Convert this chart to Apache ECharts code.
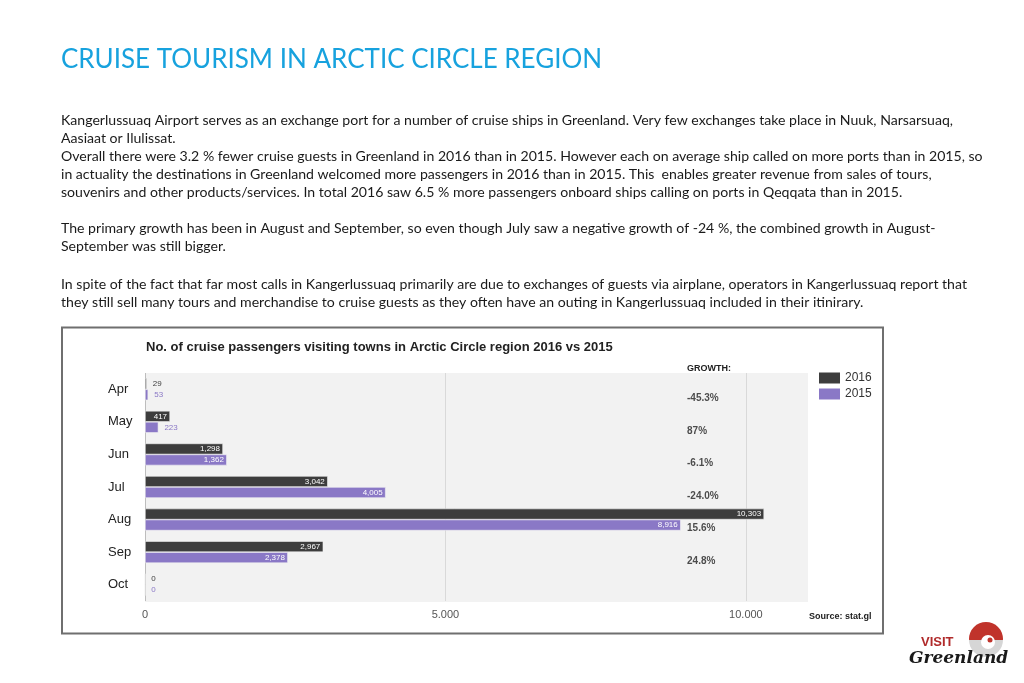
<!DOCTYPE html>
<html>
<head>
<meta charset="utf-8">
<script src="https://cdn.jsdelivr.net/npm/echarts@6/dist/echarts.min.js"></script>
<style>
  html, body { margin: 0; padding: 0; background: #ffffff; }
  #chart { width: 1024px; height: 683px; }
</style>
</head>
<body>
<div id="chart"></div>
<script>
// ---- data ----
const months = ['Apr', 'May', 'Jun', 'Jul', 'Aug', 'Sep', 'Oct'];
const pax2016 = [29, 417, 1298, 3042, 10303, 2967, 0];
const pax2015 = [53, 223, 1362, 4005, 8916, 2378, 0];
const growth = ['-45.3%', '87%', '-6.1%', '-24.0%', '15.6%', '24.8%'];
const seriesNames = ['2016', '2015'];
const pageTitle = 'CRUISE TOURISM IN ARCTIC CIRCLE REGION';
const chartTitle = 'No. of cruise passengers visiting towns in Arctic Circle region 2016 vs 2015';
const para1 = [
  'Kangerlussuaq Airport serves as an exchange port for a number of cruise ships in Greenland. Very few exchanges take place in Nuuk, Narsarsuaq,',
  'Aasiaat or Ilulissat.',
  'Overall there were 3.2 % fewer cruise guests in Greenland in 2016 than in 2015. However each on average ship called on more ports than in 2015, so',
  'in actuality the destinations in Greenland welcomed more passengers in 2016 than in 2015. This  enables greater revenue from sales of tours,',
  'souvenirs and other products/services. In total 2016 saw 6.5 % more passengers onboard ships calling on ports in Qeqqata than in 2015.'
];
const para2 = [
  'The primary growth has been in August and September, so even though July saw a negative growth of -24 %, the combined growth in August-',
  'September was still bigger.'
];
const para3 = [
  'In spite of the fact that far most calls in Kangerlussuaq primarily are due to exchanges of guests via airplane, operators in Kangerlussuaq report that',
  'they still sell many tours and merchandise to cruise guests as they often have an outing in Kangerlussuaq included in their itinirary.'
];

// ---- styles ----
const C2016 = '#3d3d3d';
const C2015 = '#8a78c6';
const BODY_FONT = 'Lato';
const CHART_FONT = '"Liberation Sans", Arial, sans-serif';
const fmtComma = v => String(v).replace(/\B(?=(\d{3})+(?!\d))/g, ',');
const fmtDot = v => String(v).replace(/\B(?=(\d{3})+(?!\d))/g, '.');

function barData(values, color) {
  return values.map(v => {
    const inside = v > 300;
    return {
      value: v,
      label: {
        show: true,
        position: inside ? 'insideRight' : 'right',
        distance: inside ? 3 : 6,
        color: inside ? '#ffffff' : color,
        fontSize: 8,
        fontFamily: CHART_FONT,
        formatter: p => fmtComma(p.value)
      }
    };
  });
}

const GROWTH_X = 9020;

const chart = echarts.init(document.getElementById('chart'), null, { renderer: 'canvas' });
const option = {
  backgroundColor: '#ffffff',
  animation: false,
  title: {
    text: pageTitle,
    left: 56,
    top: 42,
    textStyle: { fontFamily: BODY_FONT, fontWeight: 'normal', fontSize: 26, color: '#17a2de' }
  },
  legend: {
    orient: 'vertical',
    left: 819,
    top: 372,
    padding: 0,
    itemWidth: 21,
    itemHeight: 11,
    itemGap: 4,
    icon: 'rect',
    itemStyle: { borderWidth: 0 },
    data: seriesNames,
    textStyle: { fontFamily: CHART_FONT, fontSize: 12, color: '#333' }
  },
  grid: { left: 145, top: 373, width: 661, height: 228, containLabel: false },
  xAxis: {
    type: 'value',
    min: 0,
    max: 11000,
    interval: 5000,
    axisLine: { show: false },
    axisTick: { show: false },
    splitLine: { show: true, showMaxLine: false, lineStyle: { color: ['#bdbdbd', '#d9d9d9', '#d9d9d9'], width: 1 } },
    axisLabel: {
      margin: 8,
      showMaxLabel: false,
      color: '#555',
      fontSize: 11,
      fontFamily: CHART_FONT,
      formatter: v => fmtDot(v)
    }
  },
  yAxis: {
    type: 'category',
    data: months,
    inverse: true,
    axisLine: { show: false },
    axisTick: { show: false },
    splitArea: { show: false },
    axisLabel: { align: 'left', margin: 37, fontSize: 13, color: '#222', fontFamily: CHART_FONT }
  },
  series: [
    {
      name: seriesNames[0],
      type: 'bar',
      data: barData(pax2016, C2016),
      barWidth: 11,
      barGap: '0%',
      itemStyle: { color: C2016, borderColor: '#f4f4f4', borderWidth: 0.6 }
    },
    {
      name: seriesNames[1],
      type: 'bar',
      data: barData(pax2015, C2015),
      barWidth: 11,
      itemStyle: { color: C2015, borderColor: '#f4f4f4', borderWidth: 0.6 }
    },
    {
      name: 'growth',
      type: 'scatter',
      symbolSize: 0,
      silent: true,
      data: growth.map((g, i) => ({ value: [GROWTH_X, months[i]], name: g })),
      label: {
        show: true,
        position: 'right',
        distance: 0,
        offset: [0, 9],
        formatter: p => p.name,
        fontFamily: CHART_FONT,
        fontWeight: 'bold',
        fontSize: 10,
        color: '#222'
      }
    }
  ],
  graphic: [
    // plot background
    { type: 'rect', z: -1, shape: { x: 145, y: 373, width: 663, height: 229 }, style: { fill: '#f2f2f2' } },
    // chart frame
    { type: 'rect', z: 0, shape: { x: 62, y: 327.5, width: 821, height: 306 }, style: { fill: 'none', stroke: '#6f6f6f', lineWidth: 2 } },
    { type: 'text', left: 146, top: 341, style: { text: chartTitle, font: 'bold 13px ' + CHART_FONT, fill: '#222' } },
    { type: 'text', left: 687, top: 364, style: { text: 'GROWTH:', font: 'bold 9px ' + CHART_FONT, fill: '#222' } },
    { type: 'text', left: 809, top: 612, style: { text: 'Source: stat.gl', font: 'bold 9px ' + CHART_FONT, fill: '#222' } },
    // paragraphs
    { type: 'text', left: 61, top: 111, style: { text: para1.join('\n'), font: '14.1px ' + BODY_FONT, lineHeight: 18, fill: '#1a1a1a' } },
    { type: 'text', left: 61, top: 219, style: { text: para2.join('\n'), font: '14.1px ' + BODY_FONT, lineHeight: 18, fill: '#1a1a1a' } },
    { type: 'text', left: 61, top: 275, style: { text: para3.join('\n'), font: '14.1px ' + BODY_FONT, lineHeight: 18, fill: '#1a1a1a' } },
    // logo
    { type: 'circle', shape: { cx: 986, cy: 639, r: 17 }, style: { fill: '#c0332b' } },
    { type: 'rect', shape: { x: 968, y: 640, width: 36, height: 18 }, style: { fill: '#ffffff' } },
    { type: 'sector', shape: { cx: 986, cy: 640, r: 17, r0: 0, startAngle: 0, endAngle: Math.PI }, style: { fill: '#d6d6d6' } },
    { type: 'circle', shape: { cx: 988, cy: 642, r: 7 }, style: { fill: '#ffffff' } },
    { type: 'circle', shape: { cx: 990, cy: 640, r: 2.5 }, style: { fill: '#c0332b' } },
    { type: 'text', left: 921, top: 636, style: { text: 'VISIT', font: 'bold 13px "Liberation Sans", Arial', fill: '#b02a2a' } },
    { type: 'text', left: 909, top: 650, style: { text: 'Greenland', font: 'italic bold 17px "DejaVu Serif", serif', fill: '#1a1a1a' } }
  ]
};
chart.setOption(option);
</script>
</body>
</html>
